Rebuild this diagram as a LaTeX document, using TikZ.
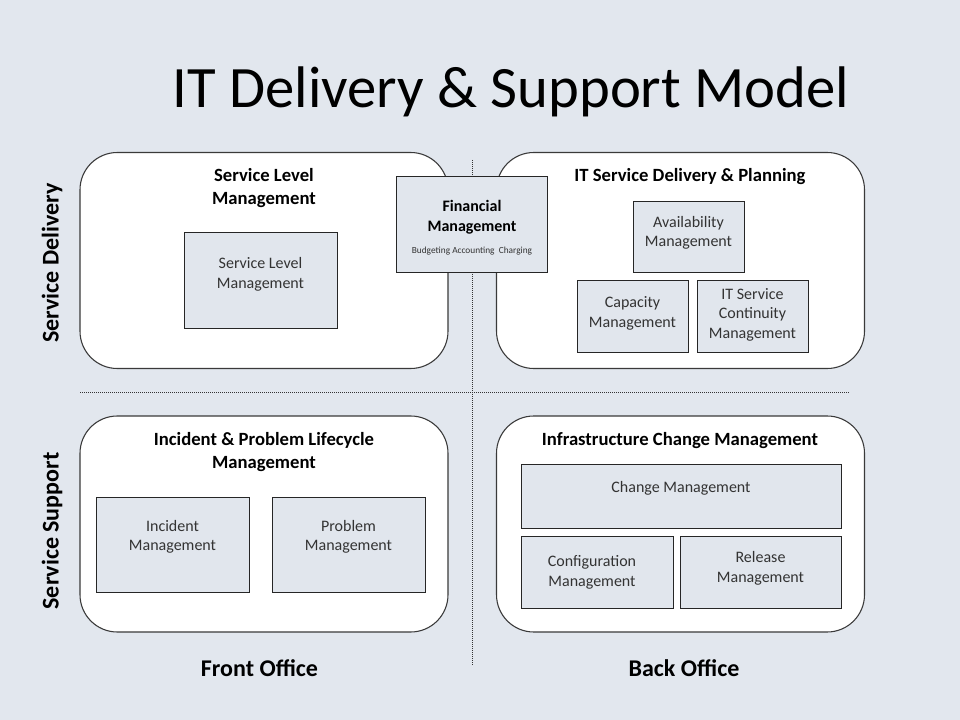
\documentclass[tikz,border=0pt]{standalone}
\usepackage{fontspec}
\setmainfont{Carlito}
\definecolor{bg}{HTML}{E2E7EE}
\definecolor{innerfill}{HTML}{E1E6ED}
\definecolor{frame}{HTML}{3A3A3A}
\begin{document}
\begin{tikzpicture}[x=0.75pt,y=-0.75pt,
  panel/.style={draw=frame, line width=0.8pt, fill=white, rounded corners=28pt, minimum width=276pt, minimum height=162pt, inner sep=0pt},
  subbox/.style={draw=black!85, line width=0.7pt, fill=innerfill, inner sep=0pt},
  ptitle/.style={font=\fontsize{14}{17}\selectfont\bfseries, align=center, inner sep=0pt},
  itext/.style={font=\fontsize{12}{14.6}\selectfont, align=center, inner sep=0pt, text=black!80},
  side/.style={font=\fontsize{18}{22}\selectfont\bfseries, inner sep=0pt},
  divider/.style={draw=black!80, line width=0.75pt, dash pattern=on 0.75pt off 0.75pt}]

\fill[bg] (0,0) rectangle (960,720);
\useasboundingbox (0,0) rectangle (960,720);

% title
\node[anchor=base, inner sep=0pt, font=\fontsize{44}{52}\selectfont] (title) at (511,108) {IT Delivery \& Support Model};

% dividers
\coordinate (vtop) at (472,160);
\coordinate (vbot) at (472,665);
\coordinate (hleft) at (80,392);
\coordinate (hright) at (849,392);
\draw[divider] (vtop) -- (vbot);
\draw[divider] (hleft) -- (hright);

% panels
\node[panel] (tl) at (264,260.5) {};
\node[panel] (tr) at (680.5,260.5) {};
\node[panel] (bl) at (264,524) {};
\node[panel] (br) at (680.5,524) {};

% top-left
\node[ptitle] (tlt) at (264,188) {Service Level\\Management};
\node[subbox, minimum width=114.75pt, minimum height=72pt] (slm) at (260.5,280) {};
\node[itext] (slmt) at (260.5,274.5) {Service Level\\Management};

% financial
\node[subbox, minimum width=113.25pt, minimum height=72pt] (fin) at (471.5,224) {};
\node[font=\fontsize{12}{15}\selectfont\bfseries, align=center, inner sep=0pt] (fint) at (472,217) {Financial\\Management};
\node[font=\fontsize{7}{8}\selectfont, inner sep=0pt, text=black!80] (finsub) at (472,251) {Budgeting Accounting\ \ Charging};

% top-right
\node[ptitle] (trt) at (690,177) {IT Service Delivery \& Planning};
\node[subbox, minimum width=83.25pt, minimum height=53.25pt] (avail) at (688.5,236.5) {};
\node[itext] (availt) at (688.5,233) {Availability\\Management};
\node[subbox, minimum width=83.25pt, minimum height=54pt] (cap) at (632.5,316) {};
\node[itext] (capt) at (632.5,313.5) {Capacity\\Management};
\node[subbox, minimum width=83.25pt, minimum height=54pt] (itscm) at (752.5,316) {};
\node[itext] (itscmt) at (752.5,314.5) {IT Service\\Continuity\\Management};

% bottom-left
\node[ptitle] (blt) at (264,452) {Incident \& Problem Lifecycle\\Management};
\node[subbox, minimum width=114.75pt, minimum height=71.25pt] (inc) at (172.5,544.5) {};
\node[itext] (inct) at (172.5,537) {Incident\\Management};
\node[subbox, minimum width=114.75pt, minimum height=71.25pt] (prob) at (348.5,544.5) {};
\node[itext] (probt) at (348.5,537) {Problem\\Management};

% bottom-right
\node[ptitle] (brt) at (680,441) {Infrastructure Change Management};
\node[subbox, minimum width=240pt, minimum height=48pt] (chg) at (681,496) {};
\node[itext] (chgt) at (681,488) {Change Management};
\node[subbox, minimum width=114pt, minimum height=54pt] (conf) at (597,572) {};
\node[itext] (conft) at (592,572.5) {Configuration\\Management};
\node[subbox, minimum width=120.75pt, minimum height=54pt] (rel) at (760.5,572) {};
\node[itext] (relt) at (760.5,568.5) {Release\\Management};

% side labels
\node[side, rotate=90] (sd) at (52,263) {Service Delivery};
\node[side, rotate=90] (ss) at (52,531) {Service Support};
\node[side] (fo) at (259.5,668) {Front Office};
\node[side] (bo) at (684,668) {Back Office};
\end{tikzpicture}
\end{document}
